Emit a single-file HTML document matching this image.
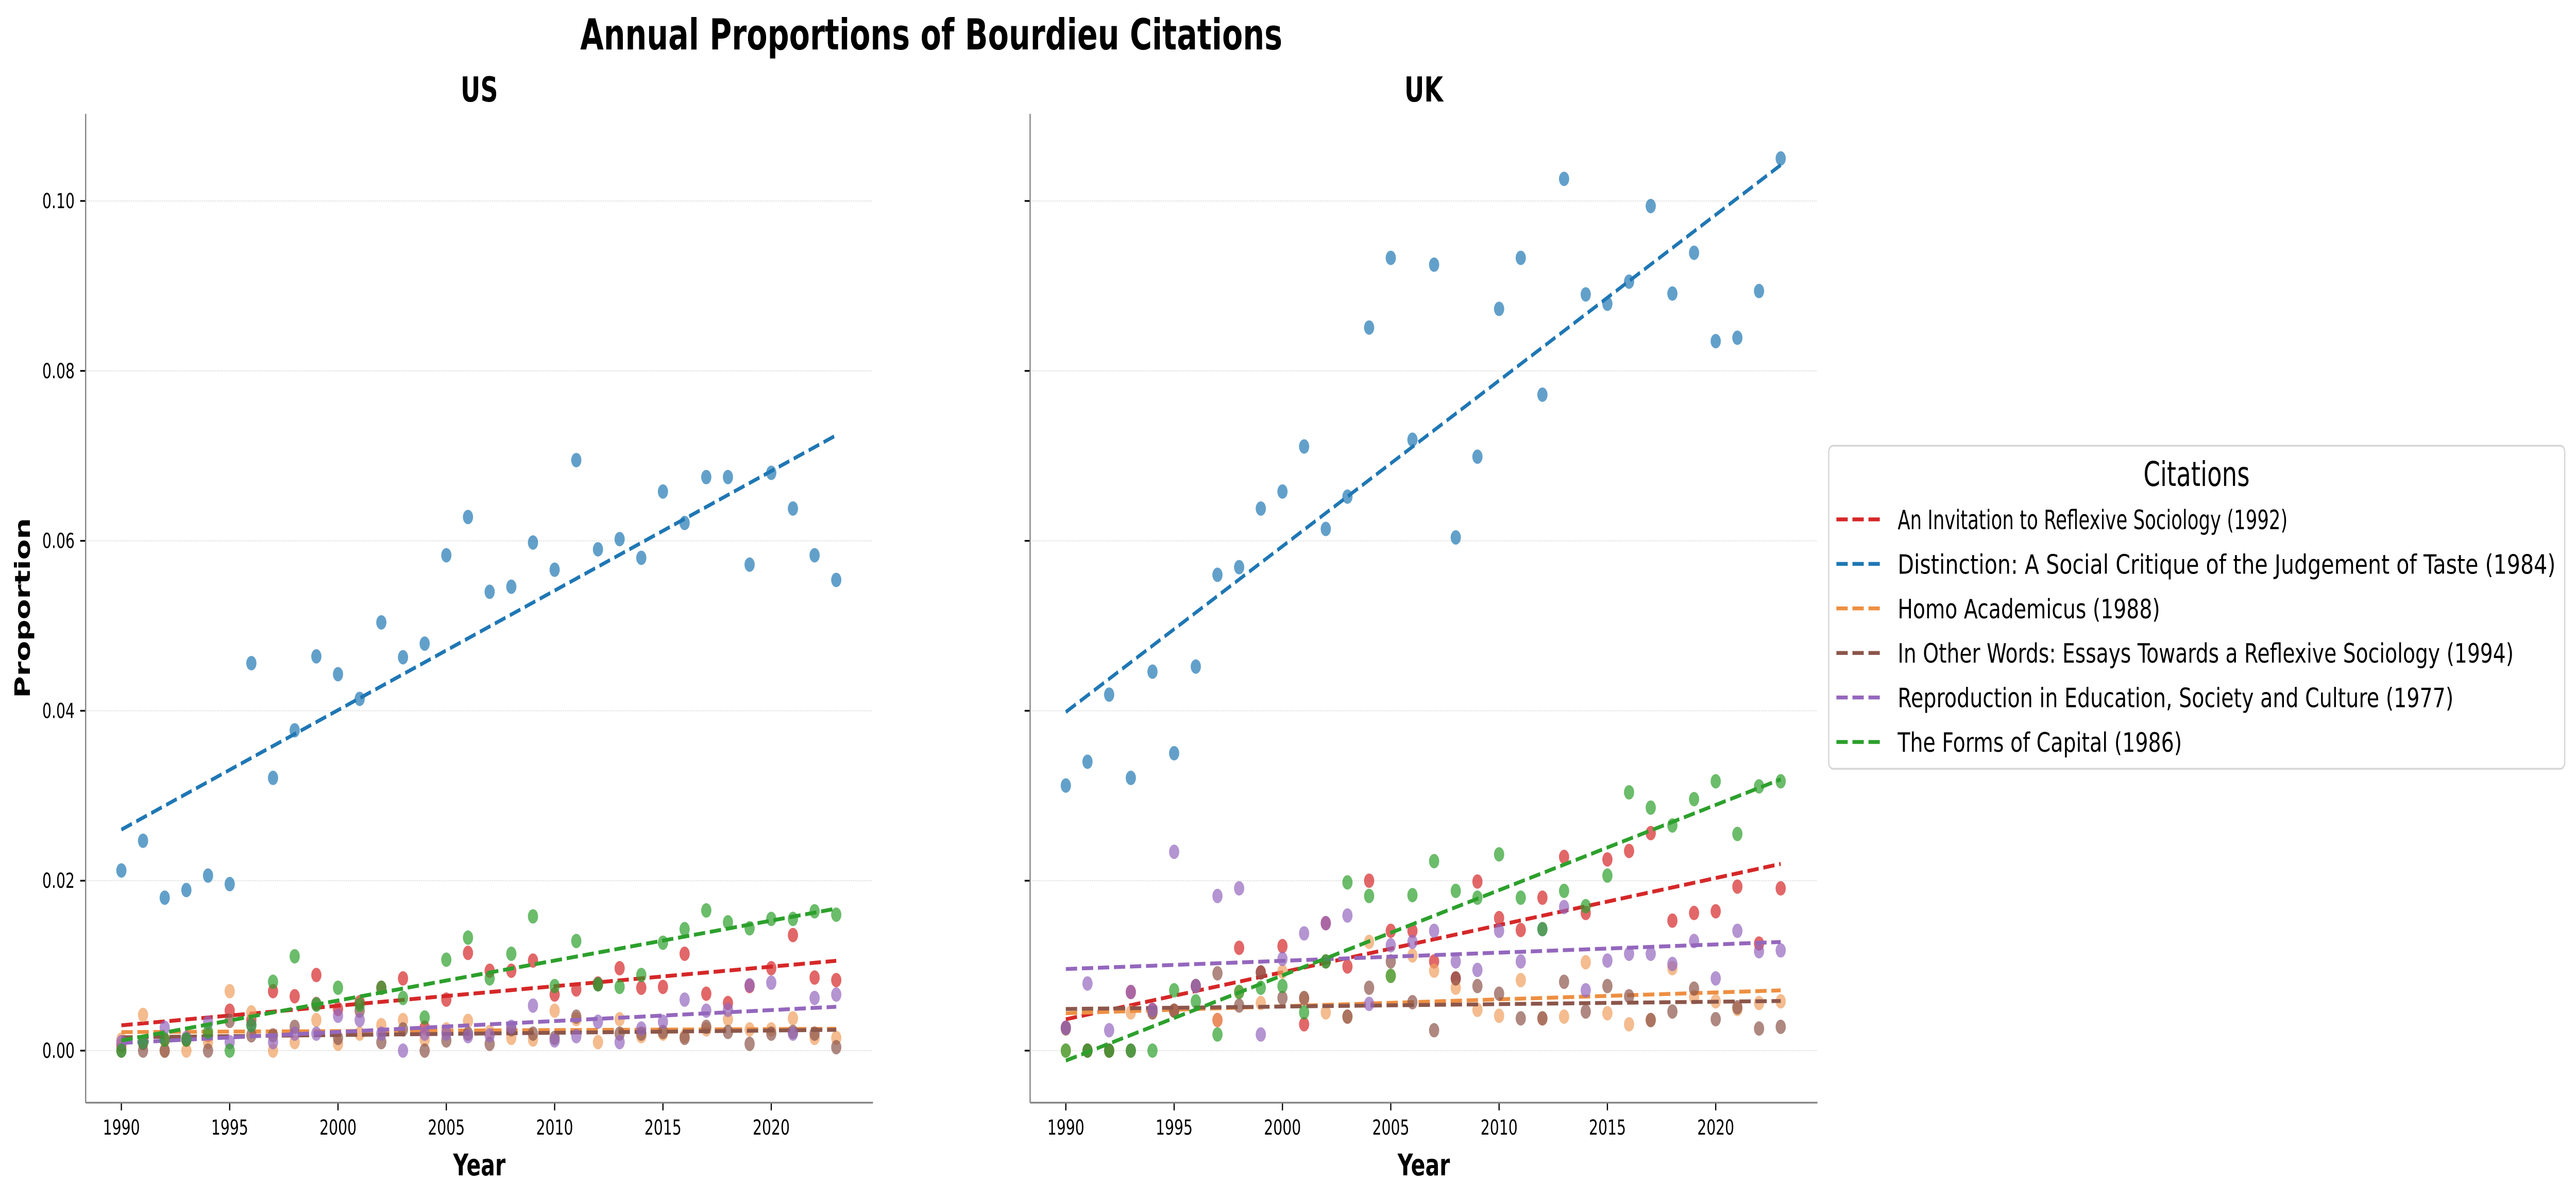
<!DOCTYPE html>
<html><head><meta charset="utf-8"><style>
html,body{margin:0;padding:0;background:#fff;width:100%;height:100%;overflow:hidden}
svg{display:block;overflow:hidden;width:100vw;height:100vh}
text{font-family:"DejaVu Sans","Liberation Sans",sans-serif}
</style></head><body>
<svg id="chart" xmlns="http://www.w3.org/2000/svg" viewBox="0 0 7067 2325" preserveAspectRatio="none">
<rect width="7067" height="2325" fill="#fff"/>
<text x="2555" y="96" font-size="83" font-weight="bold" text-anchor="middle">Annual Proportions of Bourdieu Citations</text>
<g id="plots"></g>
<g id="legend"></g>
</svg>
<script>
const years = [1990,1991,1992,1993,1994,1995,1996,1997,1998,1999,2000,2001,2002,2003,2004,2005,2006,2007,2008,2009,2010,2011,2012,2013,2014,2015,2016,2017,2018,2019,2020,2021,2022,2023];
const seriesNames = ["An Invitation to Reflexive Sociology (1992)","Distinction: A Social Critique of the Judgement of Taste (1984)","Homo Academicus (1988)","In Other Words: Essays Towards a Reflexive Sociology (1994)","Reproduction in Education, Society and Culture (1977)","The Forms of Capital (1986)"];
const seriesKeys = ["invitation","distinction","homo-academicus","in-other-words","reproduction","forms-of-capital"];
const yTicks = [0.00,0.02,0.04,0.06,0.08,0.10];
const yTickLabels = ["0.00","0.02","0.04","0.06","0.08","0.10"];
const xTicks = [1990,1995,2000,2005,2010,2015,2020];

const usInvitation = [0.0006,0.0009,0.0013,0.0013,0.0018,0.0047,0.0036,0.0070,0.0064,0.0089,0.0049,0.0057,0.0074,0.0085,0.0027,0.0060,0.0115,0.0094,0.0094,0.0106,0.0066,0.0072,0.0079,0.0097,0.0074,0.0075,0.0114,0.0067,0.0056,0.0076,0.0097,0.0136,0.0086,0.0083];
const usDistinction = [0.0212,0.0247,0.0180,0.0189,0.0206,0.0196,0.0456,0.0321,0.0377,0.0464,0.0443,0.0414,0.0504,0.0463,0.0479,0.0583,0.0628,0.0540,0.0546,0.0598,0.0566,0.0695,0.0590,0.0602,0.0580,0.0658,0.0621,0.0675,0.0675,0.0572,0.0680,0.0638,0.0583,0.0554];
const usHomo = [0.0013,0.0042,0.0000,0.0000,0.0010,0.0070,0.0045,0.0000,0.0010,0.0036,0.0008,0.0020,0.0030,0.0036,0.0013,0.0025,0.0035,0.0022,0.0015,0.0013,0.0047,0.0037,0.0010,0.0037,0.0017,0.0020,0.0017,0.0025,0.0037,0.0025,0.0025,0.0038,0.0015,0.0015];
const usOtherWords = [0.0000,0.0000,0.0000,0.0013,0.0000,0.0035,0.0018,0.0018,0.0028,0.0055,0.0015,0.0047,0.0010,0.0025,0.0000,0.0012,0.0020,0.0008,0.0025,0.0020,0.0015,0.0040,0.0078,0.0020,0.0020,0.0022,0.0015,0.0028,0.0022,0.0008,0.0020,0.0022,0.0020,0.0004];
const usReproduction = [0.0010,0.0010,0.0027,0.0015,0.0033,0.0010,0.0030,0.0010,0.0020,0.0020,0.0041,0.0036,0.0020,0.0000,0.0020,0.0020,0.0017,0.0018,0.0028,0.0053,0.0012,0.0017,0.0034,0.0010,0.0026,0.0034,0.0060,0.0047,0.0048,0.0077,0.0080,0.0020,0.0062,0.0066];
const usForms = [0.0000,0.0010,0.0013,0.0013,0.0022,0.0000,0.0030,0.0081,0.0111,0.0054,0.0074,0.0054,0.0074,0.0062,0.0039,0.0107,0.0133,0.0085,0.0114,0.0158,0.0076,0.0129,0.0078,0.0075,0.0089,0.0127,0.0143,0.0165,0.0151,0.0144,0.0155,0.0155,0.0164,0.0160];

const ukInvitation = [0.0027,0.0000,0.0000,0.0069,0.0048,0.0047,0.0076,0.0036,0.0121,0.0092,0.0123,0.0031,0.0150,0.0099,0.0200,0.0141,0.0141,0.0105,0.0085,0.0199,0.0156,0.0142,0.0180,0.0228,0.0162,0.0225,0.0235,0.0256,0.0153,0.0162,0.0164,0.0193,0.0126,0.0191];
const ukDistinction = [0.0312,0.0340,0.0419,0.0321,0.0446,0.0350,0.0452,0.0560,0.0569,0.0638,0.0658,0.0711,0.0614,0.0652,0.0851,0.0933,0.0719,0.0925,0.0604,0.0699,0.0873,0.0933,0.0772,0.1026,0.0890,0.0879,0.0905,0.0994,0.0891,0.0939,0.0835,0.0839,0.0894,0.1050];
const ukHomo = [0.0000,0.0000,0.0000,0.0045,0.0045,0.0047,0.0076,0.0036,0.0069,0.0056,0.0093,0.0061,0.0045,0.0040,0.0128,0.0088,0.0112,0.0094,0.0074,0.0048,0.0041,0.0083,0.0038,0.0040,0.0104,0.0044,0.0031,0.0036,0.0097,0.0063,0.0058,0.0049,0.0056,0.0058];
const ukOtherWords = [0.0026,0.0000,0.0000,0.0000,0.0045,0.0047,0.0076,0.0091,0.0053,0.0092,0.0062,0.0062,0.0105,0.0040,0.0074,0.0105,0.0057,0.0024,0.0085,0.0076,0.0067,0.0038,0.0038,0.0081,0.0046,0.0076,0.0064,0.0036,0.0046,0.0073,0.0037,0.0051,0.0026,0.0028];
const ukReproduction = [0.0027,0.0079,0.0024,0.0069,0.0048,0.0234,0.0076,0.0182,0.0191,0.0019,0.0108,0.0138,0.0150,0.0159,0.0055,0.0124,0.0128,0.0141,0.0105,0.0095,0.0141,0.0105,0.0143,0.0169,0.0071,0.0106,0.0114,0.0114,0.0102,0.0129,0.0085,0.0141,0.0117,0.0118];
const ukForms = [0.0000,0.0000,0.0000,0.0000,0.0000,0.0071,0.0058,0.0019,0.0069,0.0074,0.0076,0.0045,0.0105,0.0198,0.0182,0.0088,0.0183,0.0223,0.0188,0.0180,0.0231,0.0180,0.0143,0.0188,0.0170,0.0206,0.0304,0.0286,0.0265,0.0296,0.0317,0.0255,0.0311,0.0317];

const pointColors = ["#d62728","#1f77b4","#f0a060","#8c564b","#9467bd","#2ca02c"];
const lineColors = ["#d62728","#1f77b4","#ee8f42","#8c564b","#9467bd","#2ca02c"];

const NS = "http://www.w3.org/2000/svg";
function mk(tag, attrs, parent){const e=document.createElementNS(NS,tag);for(const k in attrs)e.setAttribute(k,attrs[k]);parent.appendChild(e);return e;}

const Y0 = 2039, YPX = 16490, TOP = 221, BOTTOM = 2140;
function yScale(v){return Y0 - v*YPX;}
const panels = [
  {key:"us", title:"US", left:235, right:2395, x1990:333, showY:true, data:[usInvitation,usDistinction,usHomo,usOtherWords,usReproduction,usForms]},
  {key:"uk", title:"UK", left:2826, right:4986, x1990:2924, showY:false, data:[ukInvitation,ukDistinction,ukHomo,ukOtherWords,ukReproduction,ukForms]}
];
const XPX = 59.43;
function fit(xs, ys){const n=xs.length;let sx=0,sy=0,sxx=0,sxy=0;for(let i=0;i<n;i++){sx+=xs[i];sy+=ys[i];sxx+=xs[i]*xs[i];sxy+=xs[i]*ys[i];}const b=(n*sxy-sx*sy)/(n*sxx-sx*sx);return {b:b,a:(sy-b*sx)/n};}

const root = document.getElementById('plots');
panels.forEach(p=>{
  const xScale = yr => p.x1990 + (yr-1990)*XPX;
  const g = mk('g',{},root);
  
  
  const cx = (p.left+p.right)/2;
  const t = mk('text',{x:cx,y:197,'font-size':67,'font-weight':'bold','text-anchor':'middle'},g);
  t.textContent = p.title;
  
  
  yTicks.forEach((v,i)=>{
    const y = yScale(v);
    const gl = mk('line',{x1:p.left,x2:p.right,y1:y,y2:y,stroke:'#d0d0d0','stroke-width':2,'stroke-dasharray':'2,3'},g);
    
    
    const tk = mk('line',{x1:p.left-15,x2:p.left,y1:y,y2:y,stroke:'#000','stroke-width':3.3},g);
    
    
    if(p.showY){
      const lt = mk('text',{x:p.left-30,y:y+14,'font-size':40,'text-anchor':'end'},g);
      lt.textContent = yTickLabels[i];
      
      
    }
  });
  xTicks.forEach(yr=>{
    const x = xScale(yr);
    const tk = mk('line',{x1:x,x2:x,y1:BOTTOM,y2:BOTTOM+15,stroke:'#000','stroke-width':3.3},g);
    
    
    const lt = mk('text',{x:x,y:2202,'font-size':40,'text-anchor':'middle'},g);
    lt.textContent = String(yr);
    
    
  });
  const sl = mk('line',{x1:p.left,x2:p.left,y1:TOP,y2:BOTTOM,stroke:'#808080','stroke-width':3.3},g);
  
  
  const sb = mk('line',{x1:p.left,x2:p.right,y1:BOTTOM,y2:BOTTOM,stroke:'#808080','stroke-width':3.3},g);
  
  
  const xl = mk('text',{x:cx,y:2281,'font-size':58,'font-weight':'bold','text-anchor':'middle'},g);
  xl.textContent = 'Year';
  
  
  if(p.showY){
    const yl = mk('text',{x:0,y:0,'font-size':58,'font-weight':'bold','text-anchor':'middle',transform:'translate(82,1180) rotate(-90)'},g);
    yl.textContent = 'Proportion';
    
    
  }
  p.data.forEach((vals,si)=>{
    const sg = mk('g',{},g);
    
    
    vals.forEach((v,i)=>{
      const c = mk('circle',{cx:xScale(years[i]),cy:yScale(v),r:14,fill:pointColors[si],'fill-opacity':0.7},sg);
      
      
    });
    const f = fit(years, vals);
    const ya = f.a + f.b*years[0], yb = f.a + f.b*years[years.length-1];
    const ln = mk('line',{x1:xScale(years[0]),y1:yScale(ya),x2:xScale(years[years.length-1]),y2:yScale(yb),stroke:lineColors[si],'stroke-width':7.5,'stroke-dasharray':'31,13'},sg);
    
    
  });
});

const lg = document.getElementById('legend');
const box = mk('rect',{x:5017,y:865,width:2019,height:627,rx:12,fill:'#fff','fill-opacity':0.9,stroke:'#d6d6d6','stroke-width':3.5},lg);


const lt = mk('text',{x:6026,y:943,'font-size':66,'text-anchor':'middle'},lg);
lt.textContent = 'Citations';


const legendTextWidths = [1070,1805,720,1690,1525,780];
seriesNames.forEach((nm,i)=>{
  const y = 1008 + i*86.4;
  const eg = mk('g',{},lg);
  
  
  mk('line',{x1:5038,x2:5159,y1:y,y2:y,stroke:lineColors[i],'stroke-width':7.5,'stroke-dasharray':'31,13'},eg);
  const tx = mk('text',{x:5206,y:y+19,'font-size':52,textLength:legendTextWidths[i],lengthAdjust:'spacingAndGlyphs'},eg);
  tx.textContent = nm;
});
</script>
</body></html>
